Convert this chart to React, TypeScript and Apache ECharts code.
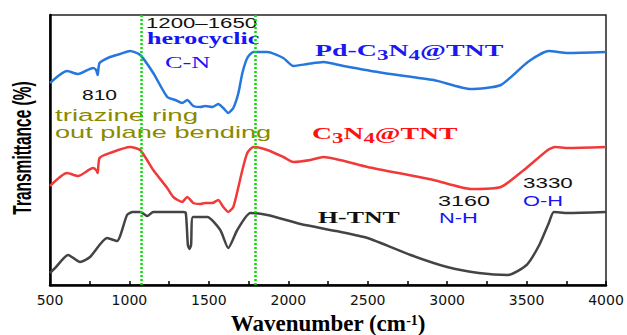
import React, { useEffect, useRef } from "react";
import * as echarts from "echarts";

// Wavenumbers (cm-1) and transmittance (arbitrary offset units)
const wnPd = [500, 607, 677, 771, 790, 800, 812, 878, 941, 1004, 1068, 1150, 1238, 1288, 1332, 1364, 1402, 1446, 1477, 1522, 1559, 1591, 1622, 1654, 1686, 1711, 1742, 1780, 1868, 1969, 2032, 2121, 2222, 2348, 2600, 2915, 3149, 3338, 3508, 3640, 3760, 4000];
const tPd = [202, 214, 211, 217, 215, 210, 222, 228, 231, 234, 230, 212, 188, 185, 182, 185, 179, 178, 179, 178, 181, 177, 172, 177, 192, 212, 227, 233, 233, 227, 219, 221, 223, 219, 212, 205, 196, 200, 223, 234, 232, 233];

const wnC3N4 = [500, 607, 677, 771, 790, 800, 812, 878, 1004, 1068, 1150, 1238, 1276, 1332, 1364, 1402, 1446, 1477, 1522, 1559, 1591, 1622, 1654, 1686, 1711, 1742, 1780, 1868, 1969, 2032, 2140, 2222, 2499, 2915, 3149, 3338, 3483, 3634, 3680, 3760, 4000];
const tC3N4 = [99, 112, 109, 117, 115, 112, 127, 132, 138, 135, 115, 97, 88, 83, 88, 82, 81, 82, 82, 85, 78, 73, 78, 98, 115, 132, 138, 135, 128, 123, 125, 128, 118, 105, 96, 98, 115, 135, 138, 137, 138];

const wnHTNT = [500, 532, 614, 689, 752, 859, 922, 985, 1020, 1068, 1112, 1150, 1339, 1355, 1368, 1378, 1388, 1400, 1490, 1572, 1622, 1679, 1761, 1868, 2077, 2300, 2499, 2770, 3000, 3200, 3382, 3500, 3580, 3640, 3672, 3760, 4000];
const tHTNT = [12, 17, 30, 23, 28, 47, 44, 70, 73, 73, 69, 73, 73, 72, 40, 36, 40, 68, 68, 55, 37, 55, 72, 70, 61, 54, 47, 30, 18, 12, 10, 20, 40, 62, 73, 72, 73];

const regionLines = [1075, 1790];
const xMin = 500;
const xMax = 4000;
const xStep = 500;

const seriesNames = ["Pd-C3N4@TNT", "C3N4@TNT", "H-TNT"];

const pair = (xs: number[], ys: number[]) => xs.map((x, i) => [x, ys[i]]);

const SANS = "Liberation Sans, Arial, sans-serif";
const SERIF = "Liberation Serif, Times New Roman, serif";

function label(text: string, x: number, y: number, size: number, sx: number, color: string, family: string, weight = "normal") {
  return {
    type: "text",
    x,
    y,
    scaleX: sx,
    silent: true,
    style: {
      text,
      fill: color,
      fontSize: size,
      fontFamily: family,
      fontWeight: weight,
      align: "left",
      verticalAlign: "middle",
    },
  };
}

function formula(parts: [string, boolean][], x: number, y: number, sx: number, color: string) {
  const text = parts.map(([t, sub]) => `{${sub ? "s" : "m"}|${t}}`).join("");
  return {
    type: "text",
    x,
    y,
    scaleX: sx,
    silent: true,
    style: {
      text,
      fill: color,
      fontSize: 17,
      fontFamily: SERIF,
      fontWeight: "bold",
      align: "left",
      verticalAlign: "middle",
      rich: {
        m: { fill: color, fontSize: 17, fontFamily: SERIF, fontWeight: "bold", lineHeight: 24 },
        s: { fill: color, fontSize: 14, fontFamily: SERIF, fontWeight: "bold", lineHeight: 14, verticalAlign: "bottom" },
      },
    },
  };
}

export default function App() {
  const ref = useRef<HTMLDivElement>(null);
  useEffect(() => {
    if (!ref.current) return;
    const chart = echarts.init(ref.current, undefined, { renderer: "svg" });
    const olive = "#8a8a00";
    const blueTxt = "#1515f5";
    chart.setOption({
      animation: false,
      backgroundColor: "#ffffff",
      grid: {
        left: 50,
        right: 21,
        top: 15,
        bottom: 50,
        show: true,
        borderColor: "#222",
        borderWidth: 1.5,
        containLabel: false,
        outerBoundsMode: "none",
      },
      xAxis: {
        type: "value",
        min: xMin,
        max: xMax,
        interval: xStep,
        axisLine: { show: true, onZero: false, lineStyle: { color: "#000", width: 2.5 } },
        axisTick: { show: true, inside: true, length: 4, lineStyle: { color: "#000", width: 1.5 } },
        minorTick: { show: true, splitNumber: 2, length: 4, lineStyle: { color: "#000", width: 1.5 } },
        splitLine: { show: false },
        axisLabel: {
          color: "#111",
          fontFamily: "DejaVu Sans",
          fontSize: 14,
          lineHeight: 14,
          margin: 8,
          formatter: (v: number) => String(v),
        },
        name: "{a|Wavenumber (cm}{s|-1}{a|)}",
        nameLocation: "middle",
        nameGap: 28,
        nameMoveOverlap: false,
        nameTextStyle: {
          rich: {
            a: { fontFamily: SERIF, fontWeight: "bold", fontSize: 23, lineHeight: 20, color: "#000" },
            s: { fontFamily: SERIF, fontWeight: "bold", fontSize: 14, lineHeight: 12, verticalAlign: "top", color: "#000" },
          },
        },
      },
      yAxis: {
        type: "value",
        min: 0,
        max: 270,
        axisLine: { show: true, lineStyle: { color: "#000", width: 2.5 } },
        axisTick: { show: false },
        axisLabel: { show: false },
        splitLine: { show: false },
      },
      series: [
        {
          name: seriesNames[0],
          type: "line",
          data: pair(wnPd, tPd),
          showSymbol: false,
          smooth: 0.2,
          lineStyle: { color: "#2577dd", width: 2.5 },
          z: 3,
          markLine: {
            silent: true,
            symbol: "none",
            label: { show: false },
            lineStyle: { color: "#00e000", type: [2, 2], width: 2.5 },
            data: regionLines.map((v) => ({ xAxis: v })),
          },
        },
        {
          name: seriesNames[1],
          type: "line",
          data: pair(wnC3N4, tC3N4),
          showSymbol: false,
          smooth: 0.2,
          lineStyle: { color: "#f03a3a", width: 2.5 },
          z: 3,
        },
        {
          name: seriesNames[2],
          type: "line",
          data: pair(wnHTNT, tHTNT),
          showSymbol: false,
          smooth: 0.2,
          lineStyle: { color: "#444444", width: 2.5 },
          z: 3,
        },
      ],
      graphic: [
        {
          type: "text",
          x: 22,
          y: 148,
          rotation: Math.PI / 2,
          scaleX: 0.62,
          silent: true,
          style: {
            text: "Transmittance (%)",
            fill: "#000",
            fontSize: 25,
            fontWeight: "bold",
            fontFamily: SANS,
            align: "center",
            verticalAlign: "middle",
          },
        },
        label("1200–1650", 146, 22.5, 15, 1.48, "#111", SANS),
        label("herocyclic", 147, 39, 16, 1.63, blueTxt, SERIF, "bold"),
        label("C-N", 165, 62, 17, 1.55, blueTxt, SERIF),
        label("810", 82, 95.5, 14, 1.5, "#111", SANS),
        label("triazine ring", 55, 115, 17, 1.63, olive, SANS),
        label("out plane bending", 55, 132, 17, 1.6, olive, SANS),
        formula([["Pd-C", false], ["3", true], ["N", false], ["4", true], ["@TNT", false]], 315, 50, 1.64, "#1a1af0"),
        formula([["C", false], ["3", true], ["N", false], ["4", true], ["@TNT", false]], 312, 133, 1.63, "#ff1010"),
        label("H-TNT", 318, 218, 17, 1.52, "#111", SERIF, "bold"),
        label("3160", 438, 201.5, 14, 1.67, "#111", SANS),
        label("N-H", 439, 218, 14, 1.56, blueTxt, SANS),
        label("3330", 523, 183.5, 14, 1.6, "#111", SANS),
        label("O-H", 523, 201.5, 14, 1.56, blueTxt, SANS),
      ],
    });
    return () => chart.dispose();
  }, []);
  return <div ref={ref} style={{ position: "fixed", left: 0, top: 0, width: 627, height: 335 }} />;
}
